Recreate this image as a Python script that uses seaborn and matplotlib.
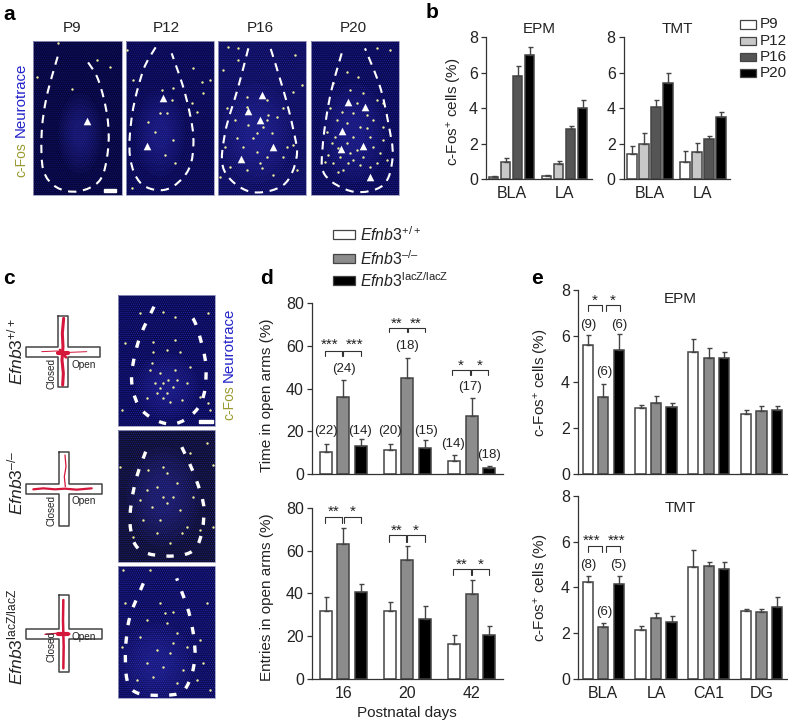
import pandas as pd
import seaborn as sns
import matplotlib.pyplot as plt
from matplotlib.patches import Rectangle, Ellipse, PathPatch
from matplotlib.path import Path

W, H = 788, 722
FONT = "Liberation Sans"

# --- values: means and top of the error bar ---
regions_b = ["BLA", "LA"]
ages = ["P9", "P12", "P16", "P20"]
b_epm_means = [[0.15, 0.95, 5.8, 7.0], [0.2, 0.85, 2.85, 4.0]]
b_epm_tops = [[0.2, 1.2, 6.4, 7.45], [0.27, 1.05, 3.0, 4.45]]
b_tmt_means = [[1.4, 2.0, 4.05, 5.45], [1.0, 1.55, 2.25, 3.5]]
b_tmt_tops = [[1.9, 2.6, 4.45, 5.97], [1.6, 2.05, 2.42, 3.78]]

days = ["16", "20", "42"]
genotypes = ["wt", "ko", "lacz"]
d_time_means = [[10.5, 36.2, 13.0], [11.5, 45.0, 12.5], [6.3, 27.3, 2.8]]
d_time_tops = [[14.0, 44.0, 16.5], [14.2, 54.2, 16.2], [8.8, 35.8, 3.9]]
d_entry_means = [[31.9, 63.1, 40.8], [31.7, 55.5, 28.0], [16.4, 39.7, 20.6]]
d_entry_tops = [[38.4, 70.8, 44.4], [36.0, 62.3, 34.2], [20.5, 46.4, 24.8]]

regions_e = ["BLA", "LA", "CA1", "DG"]
e_epm_means = [[5.6, 3.35, 5.4], [2.88, 3.07, 2.92], [5.32, 5.06, 5.03], [2.6, 2.72, 2.77]]
e_epm_tops = [[6.05, 3.93, 6.1], [2.98, 3.38, 3.1], [5.88, 5.5, 5.3], [2.77, 2.94, 2.97]]
e_tmt_means = [[4.23, 2.25, 4.16], [2.15, 2.67, 2.5], [4.9, 4.92, 4.8], [2.95, 2.9, 3.15]]
e_tmt_tops = [[4.5, 2.45, 4.48], [2.3, 2.89, 2.76], [5.65, 5.1, 5.12], [3.04, 3.05, 3.58]]

age_colors = ["white", "#c8c8c8", "#555555", "black"]
gt_colors = ["white", "#8c8c8c", "black"]
EDGE = "#444444"
BLUE = "#2222c8"
OLIVE = "#9a9a30"

# --- micrograph marks, in 3x zoom pixels of the reference ---
panel_rects = [(100, 124, 365, 585), (377, 124, 641, 585), (655, 124, 918, 585), (933, 124, 1198, 585)]
panel_base = ["#07073c", "#09094c", "#0e0e58", "#0a0a50"]
panel_hatch = ["#14147a", "#1c1c9a", "#2424ac", "#2222a8"]
panel_glow = [(240, 400, 130, 240), (480, 400, 150, 260), (770, 400, 210, 300), (1060, 400, 200, 300)]
outlines_a = [
    [(173, 170), (140, 290), (125, 400), (130, 510), (170, 562), (235, 574), (300, 540), (324, 450), (322, 350), (295, 240), (258, 178)],
    [(467, 142), (430, 210), (397, 340), (390, 470), (425, 552), (500, 568), (565, 510), (580, 410), (555, 280), (515, 160)],
    [(745, 145), (715, 260), (675, 400), (672, 510), (750, 575), (850, 555), (890, 470), (878, 380), (850, 270), (810, 140)],
    [(1025, 160), (990, 290), (968, 440), (975, 525), (1060, 575), (1150, 555), (1178, 470), (1165, 370), (1140, 260), (1095, 145)],
]
arrows_a = [
    [(260, 362)],
    [(490, 293), (440, 438)],
    [(785, 284), (745, 333), (780, 360), (820, 440), (722, 478)],
    [(1043, 305), (1095, 320), (1027, 392), (1022, 447), (1088, 438), (1110, 530)],
]
dots_a = [
    [(175, 128), (380, 150), (215, 268), (290, 180), (110, 230), (330, 200)],
    [(395, 565), (580, 205), (605, 245), (630, 240), (485, 270), (520, 265), (515, 300), (575, 310), (590, 335),
     (480, 340), (500, 340), (445, 365), (610, 280), (465, 395), (520, 420), (495, 465), (525, 490), (400, 240)],
    [(685, 140), (715, 145), (885, 165), (715, 180), (670, 210), (905, 255), (880, 275), (740, 290), (800, 300),
     (740, 320), (705, 360), (680, 325), (805, 345), (830, 350), (790, 380), (745, 375), (850, 325), (760, 415),
     (710, 415), (675, 440), (770, 455), (850, 470), (780, 490), (785, 505), (740, 510), (690, 500), (880, 435),
     (660, 530), (820, 525), (890, 510), (800, 360), (770, 400), (730, 440), (815, 400), (860, 440), (800, 470)],
    [(1130, 145), (1170, 150), (1040, 215), (1075, 230), (1050, 270), (1000, 250), (1090, 280), (1130, 300), (1150, 310),
     (990, 325), (1060, 340), (1010, 360), (1120, 360), (1080, 380), (1040, 370), (1150, 380), (980, 395), (1060, 410),
     (1110, 410), (995, 430), (1040, 430), (1120, 440), (1070, 450), (985, 465), (1020, 470), (1050, 460), (1140, 460),
     (1000, 490), (1080, 495), (1030, 510), (1130, 490), (1160, 480), (975, 485), (1015, 515), (1110, 500), (1070, 310),
     (1100, 345), (1025, 335), (1005, 410), (1090, 470), (1060, 480), (1150, 420), (1045, 490), (1015, 445), (1100, 385)],
]
panel_rects_c = [(355, 75, 646, 469), (354, 480, 646, 877), (354, 887, 646, 1285)]
panel_base_c = ["#0a0a50", "#10102c", "#0c0c54"]
panel_hatch_c = ["#2626b8", "#2020a0", "#2a2ac0"]
panel_glow_c = [(500, 350, 190, 200), (490, 680, 220, 300), (470, 1180, 220, 240)]
outlines_c = [
    [(462, 110), (415, 215), (395, 335), (430, 425), (520, 462), (600, 405), (618, 290), (590, 170), (565, 125)],
    [(437, 545), (405, 640), (390, 760), (420, 840), (520, 858), (590, 830), (612, 720), (585, 620), (540, 520)],
    [(430, 940), (385, 1060), (378, 1210), (410, 1268), (520, 1274), (560, 1250), (585, 1160), (570, 1040), (530, 925)],
]
dots_c = [
    [(490, 125), (525, 140), (375, 220), (460, 215), (525, 210), (460, 245), (500, 240), (540, 245), (570, 290),
     (525, 300), (480, 310), (450, 300), (490, 340), (520, 350), (500, 370), (470, 370), (440, 385), (490, 385),
     (545, 390), (600, 380), (625, 400), (630, 420), (365, 420), (420, 130), (625, 130), (505, 330), (480, 355),
     (530, 330), (465, 340), (510, 395), (455, 280), (560, 340)],
    [(360, 590), (445, 600), (490, 590), (640, 585), (530, 640), (470, 650), (420, 690), (490, 680), (440, 660),
     (500, 700), (540, 720), (480, 750), (430, 750), (560, 770), (640, 770), (510, 820), (620, 520), (400, 800),
     (580, 680), (600, 780), (455, 710), (520, 680), (470, 790), (545, 790), (500, 610), (570, 550)],
    [(480, 1000), (495, 1030), (520, 1025), (500, 1060), (530, 1090), (420, 1100), (470, 1140), (510, 1150), (550, 1200),
     (600, 1110), (620, 1000), (440, 1180), (490, 1190), (590, 1230), (630, 1260), (370, 900), (365, 1130), (450, 900),
     (530, 1240), (410, 1230), (460, 1220), (520, 1120), (610, 1180), (375, 1000), (440, 1050), (560, 1130)],
]

# mazes: (vertical arm x0, x1, y0, y1), (horizontal arm x0, x1, y0, y1)
mazes = [
    ((175, 205, 138, 352), (78, 300, 230, 262)),
    ((177, 208, 547, 767), (78, 307, 642, 673)),
    ((177, 208, 976, 1206), (78, 307, 1076, 1107)),
]
traces = [
    [([191, 187, 189, 186, 190, 188], [145, 190, 230, 270, 310, 345], 2.2), ([125, 170, 210, 260], [245, 243, 247, 245], 0.7),
     ([175, 203], [250, 250], 3.0), ([180, 198], [240, 262], 2.0)],
    [([100, 130, 165, 195, 230, 275], [658, 655, 658, 656, 659, 655], 1.6), ([195, 198, 193, 196], [555, 590, 620, 650], 0.9)],
    [([190, 189, 191, 190], [990, 1050, 1130, 1195], 1.8), ([135, 170, 210], [1093, 1090, 1092], 1.0), ([175, 205], [1092, 1092], 3.0)],
]

sns.set_theme(style="ticks")
plt.rcParams["font.family"] = [FONT, "DejaVu Sans"]
plt.rcParams["mathtext.fontset"] = "custom"
plt.rcParams["mathtext.rm"] = FONT
plt.rcParams["mathtext.it"] = FONT + ":italic"
plt.rcParams["mathtext.bf"] = FONT + ":bold"
plt.rcParams["text.color"] = "#222222"
plt.rcParams["hatch.linewidth"] = 0.4

fig = plt.figure(figsize=(W / 100, H / 100), dpi=100, facecolor="white")

# overlay in reference pixels, for images, brackets and labels
over = fig.add_axes([0, 0, 1, 1], zorder=5)
over.set_xlim(0, W)
over.set_ylim(H, 0)
over.axis("off")
over.patch.set_alpha(0)


def txt(x, y, s, size=10, **kw):
    kw.setdefault("ha", "center")
    kw.setdefault("va", "center")
    return over.text(x, y, s, fontsize=size, **kw)


def bar_panel(left, right, top, bottom, c0, spacing, step, bar_w, groups, hues, means, tops, colors, ymax, yticks, show_x):
    ax = fig.add_axes([left / W, 1 - bottom / H, (right - left) / W, (bottom - top) / H])
    ax.patch.set_alpha(0)
    rows = []
    for g, mm in zip(groups, means):
        for h, m in zip(hues, mm):
            rows.append({"group": g, "hue": h, "value": m})
    df = pd.DataFrame(rows)
    n = len(hues)
    sns.barplot(data=df, x="group", y="value", hue="hue", palette=colors, saturation=1,
                width=step * n / spacing, gap=1 - bar_w / step, edgecolor=EDGE, linewidth=1.1,
                errorbar=None, legend=False, ax=ax)
    for j, cont in enumerate(list(ax.containers)):
        for i, bar in enumerate(cont):
            x = bar.get_x() + bar.get_width() / 2
            ax.errorbar([x], [means[i][j]], yerr=[[0], [tops[i][j] - means[i][j]]], color=EDGE,
                        lw=1.0, capsize=1.8, capthick=1.0, zorder=1)
    ax.set_xlim((left - c0) / spacing, (right - c0) / spacing)
    ax.set_ylim(0, ymax)
    ax.set_yticks(yticks)
    ax.set_xlabel("")
    ax.set_ylabel("")
    sns.despine(ax=ax)
    for s in ["left", "bottom"]:
        ax.spines[s].set_color("#333333")
        ax.spines[s].set_linewidth(0.9)
    ax.tick_params(axis="y", length=3.6, width=0.9, color="#333333", labelsize=11.5, pad=2, labelcolor="#222222")
    ax.tick_params(axis="x", length=0, labelsize=11.5, pad=5, labelcolor="#222222", labelbottom=show_x)
    return ax


# panel b
bar_panel(485.7, 592, 37.3, 179.3, 511.8, 53, 12, 9.3, regions_b, ages, b_epm_means, b_epm_tops, age_colors, 8, [0, 2, 4, 6, 8], True)
bar_panel(623.5, 730, 37.3, 179.3, 650, 53, 12, 9.3, regions_b, ages, b_tmt_means, b_tmt_tops, age_colors, 8, [0, 2, 4, 6, 8], True)
# panel d
bar_panel(311.7, 503, 303, 474.3, 343.2, 64.2, 17.7, 12, days, genotypes, d_time_means, d_time_tops, gt_colors, 80, [0, 20, 40, 60, 80], False)
bar_panel(311.7, 503, 508, 678.7, 343.2, 64.2, 17.7, 12, days, genotypes, d_entry_means, d_entry_tops, gt_colors, 80, [0, 20, 40, 60, 80], True)
# panel e
bar_panel(577.7, 786.7, 290, 474, 603.3, 52.7, 15.5, 10.3, regions_e, genotypes, e_epm_means, e_epm_tops, gt_colors, 8, [0, 2, 4, 6, 8], False)
bar_panel(577.7, 786.7, 496, 678.7, 603.3, 52.7, 15.5, 10.3, regions_e, genotypes, e_tmt_means, e_tmt_tops, gt_colors, 8, [0, 2, 4, 6, 8], True)


def micrograph(rect, base, hatch_col, glow, outline, dots, arrows, ox, oy, lw=1.5, dash=(4, 3.2)):
    x0, y0, x1, y1 = rect
    box = (x0 / 3 + ox, y0 / 3 + oy), (x1 - x0) / 3, (y1 - y0) / 3
    clip = Rectangle(*box, facecolor=base, edgecolor="none", zorder=1)
    over.add_patch(clip)
    over.add_patch(Rectangle(*box, facecolor="none", edgecolor=hatch_col, hatch="........", lw=0, zorder=1.05))
    over.add_patch(Rectangle(*box, facecolor="none", edgecolor="#9a9ac0", lw=0.6, zorder=1.5))
    gx, gy, gw, gh = glow
    for scale in [1.0, 0.87, 0.74, 0.61, 0.48, 0.35]:
        e = Ellipse((gx / 3 + ox, gy / 3 + oy), gw * scale / 3, gh * scale / 3, facecolor="#3a3ac8", alpha=0.07, lw=0, zorder=1.1)
        over.add_patch(e)
        e.set_clip_path(clip)
    # smooth open curve through the outline points
    pts = [(x / 3 + ox, y / 3 + oy) for x, y in outline]
    verts = [pts[0]]
    codes = [Path.MOVETO]
    for i in range(len(pts) - 1):
        p0, p1, p2, p3 = pts[max(i - 1, 0)], pts[i], pts[i + 1], pts[min(i + 2, len(pts) - 1)]
        verts += [(p1[0] + (p2[0] - p0[0]) / 6, p1[1] + (p2[1] - p0[1]) / 6),
                  (p2[0] - (p3[0] - p1[0]) / 6, p2[1] - (p3[1] - p1[1]) / 6), p2]
        codes += [Path.CURVE4] * 3
    over.add_patch(PathPatch(Path(verts, codes), fill=False, edgecolor="white", lw=lw, ls=(0, dash), capstyle="butt", zorder=3))
    if dots:
        dd = pd.DataFrame(dots, columns=["x", "y"])
        sns.scatterplot(x=dd.x / 3 + ox, y=dd.y / 3 + oy, s=3.0, color="#eeeea0", linewidth=0, ax=over, zorder=2, legend=False)
    if arrows:
        aa = pd.DataFrame(arrows, columns=["x", "y"])
        sns.scatterplot(x=aa.x / 3 + ox, y=aa.y / 3 + oy, s=30, marker="^", color="white", linewidth=0, ax=over, zorder=4, legend=False)


for i in range(4):
    micrograph(panel_rects[i], panel_base[i], panel_hatch[i], panel_glow[i], outlines_a[i], dots_a[i], arrows_a[i], 0, 0)
for i in range(3):
    micrograph(panel_rects_c[i], panel_base_c[i], panel_hatch_c[i], panel_glow_c[i], outlines_c[i], dots_c[i], None, 0, 270, lw=2.4, dash=(2.2, 3.4))
over.set_xlabel("")
over.set_ylabel("")
over.set_xlim(0, W)
over.set_ylim(H, 0)

# scale bars
over.add_patch(Rectangle((104, 189.3), 11.7, 2.6, color="white", zorder=5))
over.add_patch(Rectangle((199.5, 420), 14, 2.8, color="white", zorder=5))

# mazes
for (vx0, vx1, vy0, vy1), (hx0, hx1, hy0, hy1) in mazes:
    vx0, vx1, hx0, hx1 = vx0 / 3, vx1 / 3, hx0 / 3, hx1 / 3
    vy0, vy1, hy0, hy1 = vy0 / 3 + 270, vy1 / 3 + 270, hy0 / 3 + 270, hy1 / 3 + 270
    xs = [vx0, vx1, vx1, hx1, hx1, vx1, vx1, vx0, vx0, hx0, hx0, vx0, vx0]
    ys = [vy0, vy0, hy0, hy0, hy1, hy1, vy1, vy1, hy1, hy1, hy0, hy0, vy0]
    over.plot(xs, ys, color="#444444", lw=1.1, zorder=2)
for tr in traces:
    for xs, ys, lw in tr:
        over.plot([x / 3 for x in xs], [y / 3 + 270 for y in ys], color="#d4173a", lw=lw, zorder=3)
for cx, oy in [(155, 310), (155, 720), (155, 1128)]:
    txt(cx / 3, oy / 3 + 270, "Closed", size=7.2, rotation=90)
for cx, oy in [(250, 285), (250, 693), (250, 1100)]:
    txt(cx / 3, oy / 3 + 270, "Open", size=7.2)

txt(15, 352, r"$\mathit{Efnb3}^{+/+}$", size=12.5, rotation=90)
txt(15, 483, "$\\mathit{Efnb3}^{\u2013/\u2013}$", size=12.5, rotation=90)
txt(15, 637, r"$\mathit{Efnb3}^{\mathrm{lacZ/lacZ}}$", size=12.5, rotation=90)

# panel letters
for x, y, s in [(9, 14, "a"), (432, 13, "b"), (9, 279, "c"), (267, 279, "d"), (537, 279, "e")]:
    txt(x, y, s, size=15, fontweight="bold", color="black")

# panel a titles and stain labels
for x, s in zip([72, 166, 260, 353], ages):
    txt(x, 28.5, s, size=11)
txt(21, 160, "c-Fos", size=10, rotation=90, color=OLIVE)
txt(21, 100, "Neurotrace", size=10.8, rotation=90, color=BLUE)
txt(229, 403, "c-Fos", size=10, rotation=90, color=OLIVE)
txt(229, 345, "Neurotrace", size=10.8, rotation=90, color=BLUE)

# panel b text
txt(539, 29, "EPM", size=11)
txt(677, 29, "TMT", size=11)
txt(455, 112, r"c-Fos$^{+}$ cells (%)", size=11, rotation=90)
for y, s, c in zip([24.3, 40.7, 56.7, 72.7], ages, age_colors):
    over.add_patch(Rectangle((740, y - 4), 16, 8.5, facecolor=c, edgecolor=EDGE, lw=0.9, zorder=2))
    txt(760, y, s, size=11, ha="left")

# panel d legend
labels_d = [r"$\mathit{Efnb3}^{+/+}$", "$\\mathit{Efnb3}^{\u2013/\u2013}$", r"$\mathit{Efnb3}^{\mathrm{lacZ/lacZ}}$"]
for y, s, c in zip([234.5, 258.5, 280.5], labels_d, gt_colors):
    over.add_patch(Rectangle((333.5, y - 4.5), 22, 9, facecolor=c, edgecolor=EDGE, lw=0.9, zorder=2))
    txt(360.5, y + 0.5, s, size=11.4, ha="left")

txt(267, 395, "Time in open arms (%)", size=11, rotation=90)
txt(267, 597.5, "Entries in open arms (%)", size=11, rotation=90)
txt(406.5, 713, "Postnatal days", size=11)
txt(542, 383, r"c-Fos$^{+}$ cells (%)", size=11, rotation=90)
txt(542, 588, r"c-Fos$^{+}$ cells (%)", size=11, rotation=90)
txt(680, 299, "EPM", size=11)
txt(680, 508, "TMT", size=11)


def bracket(x0, x1, y0, y1, ox, oy):
    xs = [x0 / 3 + ox, x0 / 3 + ox, x1 / 3 + ox, x1 / 3 + ox]
    ys = [y1 / 3 + oy, y0 / 3 + oy, y0 / 3 + oy, y1 / 3 + oy]
    over.plot(xs, ys, color="#333333", lw=0.8, zorder=6)


def stars(x, y, s, ox, oy):
    txt(x / 3 + ox, y / 3 + oy + 2, s, size=11, color="#222222")


def counts(items, ox, oy):
    for x, y, s in items:
        txt(x / 3 + ox, y / 3 + oy, s, size=9.5)


# panel d marks
for x0, x1, y0, y1 in [(164, 216, 409, 423), (220, 272, 409, 423), (358, 410, 339, 352), (415, 466, 339, 352),
                       (547, 599, 466, 480), (604, 655, 466, 480)]:
    bracket(x0, x1, y0, y1, 270, 215)
for x, y, s in [(179, 382, "***"), (255, 382, "***"), (381, 319, "**"), (438, 319, "**"), (571, 447, "*"), (628, 447, "*")]:
    stars(x, y, s, 270, 215)
counts([(222, 461, "(24)"), (167, 647, "(22)"), (270, 647, "(14)"), (411, 393, "(18)"), (361, 647, "(20)"),
        (468, 647, "(15)"), (601, 517, "(17)"), (550, 688, "(14)"), (657, 720, "(18)")], 270, 215)
for x0, x1, y0, y1 in [(164, 216, 170, 188), (222, 274, 170, 188), (356, 408, 225, 245), (412, 464, 225, 245),
                       (550, 602, 326, 346), (606, 658, 326, 346)]:
    bracket(x0, x1, y0, y1, 270, 460)
for x, y, s in [(191, 149, "**"), (249, 149, "*"), (380, 206, "**"), (437, 206, "*"), (574, 307, "**"), (632, 307, "*")]:
    stars(x, y, s, 270, 460)

# panel e marks
bracket(173, 215, 105, 122, 530, 270)
bracket(227, 269, 105, 122, 530, 270)
stars(194, 85, "*", 530, 270)
stars(249, 85, "*", 530, 270)
counts([(175, 165, "(9)"), (222, 305, "(6)"), (268, 165, "(6)")], 530, 270)
bracket(175, 217, 168, 185, 530, 490)
bracket(227, 269, 168, 185, 530, 490)
stars(186, 145, "***", 530, 490)
stars(261, 145, "***", 530, 490)
counts([(176, 226, "(8)"), (222, 367, "(6)"), (264, 226, "(5)")], 530, 490)

fig.savefig("out.png", dpi=100)
plt.close(fig)
